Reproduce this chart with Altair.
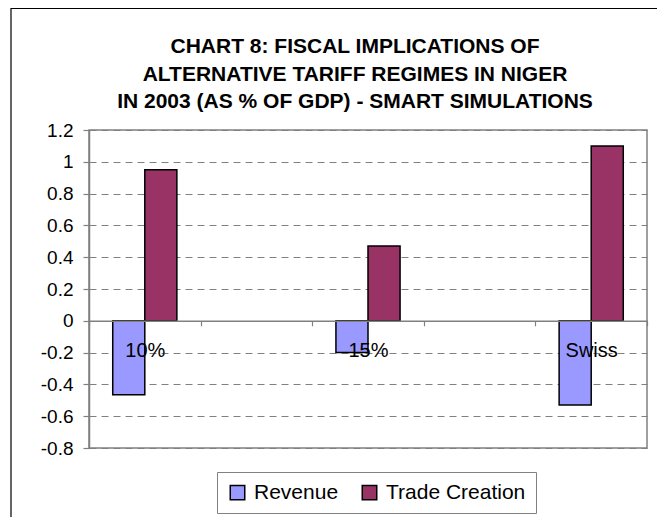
import altair as alt
import pandas as pd

# ---- data ----
categories = ["10%", "15%", "Swiss"]
series = ["Revenue", "Trade Creation"]
revenue = [-0.465, -0.2, -0.53]
trade_creation = [0.95, 0.47, 1.1]
x_slots = ["10%", "gap1", "15%", "gap2", "Swiss"]  # blank categories between bars
y_ticks = [-0.8, -0.6, -0.4, -0.2, 0, 0.2, 0.4, 0.6, 0.8, 1, 1.2]
title_lines = [
    "CHART 8: FISCAL IMPLICATIONS OF",
    "ALTERNATIVE TARIFF REGIMES IN NIGER",
    "IN 2003 (AS % OF GDP) - SMART SIMULATIONS",
]
colors = ["#9999FF", "#993366"]

rows = []
for c, r, t in zip(categories, revenue, trade_creation):
    rows.append({"category": c, "series": "Revenue", "value": r})
    rows.append({"category": c, "series": "Trade Creation", "value": t})
df = pd.DataFrame(rows)

W, H = 558, 318
ymin, ymax = -0.8, 1.2
zero_offset = -H * (0 - ymin) / (ymax - ymin)
FONT = "Liberation Sans"
one = pd.DataFrame({"d": [0]})

frame = alt.Chart(one).mark_rect(
    fillOpacity=0, stroke="black", strokeWidth=1.2
).encode(
    x=alt.value(-78), x2=alt.value(W + 200),
    y=alt.value(-121.5), y2=alt.value(H + 200),
)

title_layers = []
for i, line in enumerate(title_lines):
    title_layers.append(
        alt.Chart(one).mark_text(
            font=FONT, fontSize=21, fontWeight="bold", color="black",
            align="center", baseline="middle",
        ).encode(
            x=alt.value(W / 2 - 13),
            y=alt.value(-83 + i * 27.5),
            text=alt.value(line),
        )
    )

bars = alt.Chart(df).mark_bar(stroke="black", strokeWidth=1.5).encode(
    x=alt.X(
        "category:N",
        scale=alt.Scale(domain=x_slots, paddingInner=0, paddingOuter=0),
        axis=alt.Axis(
            title=None, orient="bottom", offset=zero_offset, grid=False,
            domainColor="#808080", domainWidth=1.5,
            tickColor="#808080", tickSize=5, tickWidth=1.2, tickBand="extent",
            labelFontSize=20, labelFont=FONT, labelColor="black",
            labelPadding=15, labelAngle=0, zindex=1,
            labelExpr="(datum.value == 'gap1' || datum.value == 'gap2') ? '' : datum.label",
        ),
    ),
    xOffset=alt.XOffset(
        "series:N", sort=series,
        scale=alt.Scale(paddingInner=0, paddingOuter=0.74),
    ),
    y=alt.Y(
        "value:Q",
        scale=alt.Scale(domain=[ymin, ymax], nice=False, zero=False),
        axis=alt.Axis(
            title=None, values=y_ticks, grid=True,
            gridColor="#808080", gridDash=[7, 5], gridWidth=1,
            domainColor="#808080", domainWidth=1.5,
            tickColor="#808080", tickSize=6, tickWidth=1.2,
            labelFontSize=19, labelFont=FONT, labelColor="black",
            labelPadding=10,
            labelExpr="(datum.value < 0 ? '-' : '') + format(abs(datum.value), '.1~f')",
        ),
    ),
    color=alt.Color(
        "series:N", sort=series,
        scale=alt.Scale(domain=series, range=colors),
        legend=alt.Legend(
            title=None, orient="none", legendX=128, legendY=342,
            direction="horizontal", symbolType="square", symbolSize=210,
            symbolStrokeColor="black", symbolStrokeWidth=1.5,
            labelFontSize=21, labelFont=FONT, labelColor="black",
            labelOffset=6, columnPadding=20,
            strokeColor="#808080", fillColor="white", padding=10,
        ),
    ),
)

chart = alt.layer(frame, *title_layers, bars).properties(
    width=W, height=H,
    autosize=alt.AutoSizeParams(type="none"),
    padding={"left": 81, "top": 122, "right": 10, "bottom": 69},
    background="white",
).configure_view(
    stroke="#808080", strokeWidth=1.5
)

chart.save("out.html", embed_options={"renderer": "svg", "actions": False})
